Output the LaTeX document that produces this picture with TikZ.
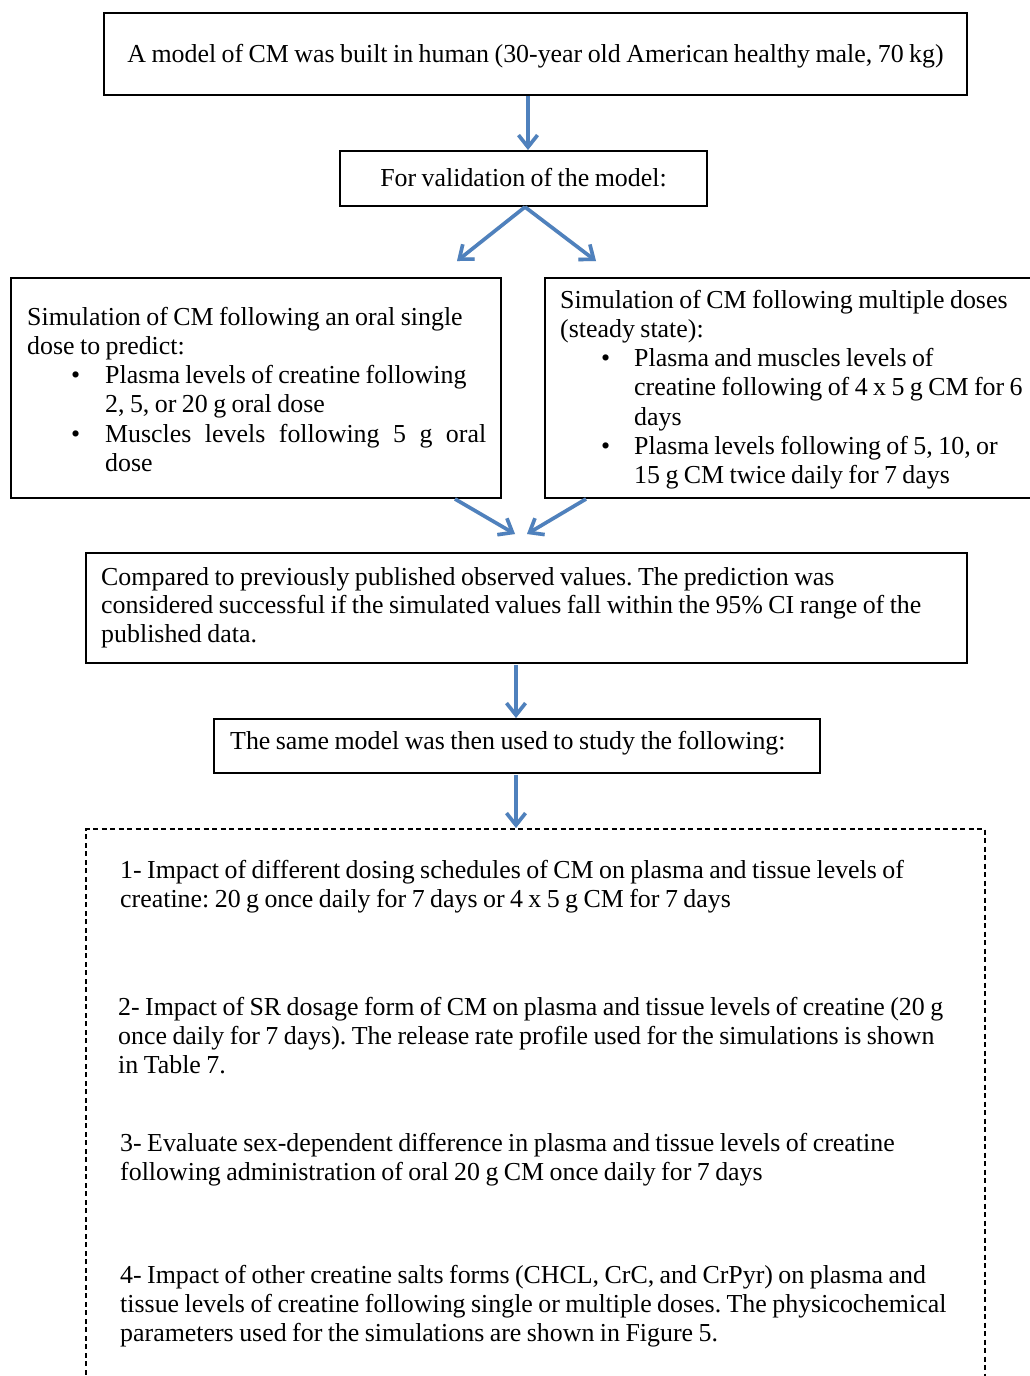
\documentclass[tikz,border=0pt]{standalone}
\usepackage{fontspec}
\setmainfont{Liberation Serif}
\usetikzlibrary{arrows.meta}
\definecolor{arrowblue}{HTML}{4F81BD}
\newcommand{\tightsp}{\frenchspacing\spaceskip=0.21em plus 0.3em minus 0.05em\relax}
\newcommand{\diafont}{\fontsize{25.9}{29.3}\selectfont\tightsp}
\newcommand{\diafontb}{\fontsize{25.9}{28.5}\selectfont\tightsp}
\begin{document}
\begin{tikzpicture}[x=1pt,y=-1pt,
  box/.style={draw=black,line width=1.4pt},
  dbox/.style={draw=black,line width=1.1pt,dash pattern=on 5pt off 3.5pt},
  txt/.style={anchor=base west,inner sep=0pt,text width=940pt,font=\diafont,
    execute at begin node=\tightsp},
  ctxt/.style={anchor=base,inner sep=0pt,font=\diafont},
  flow/.style={draw=arrowblue,line width=3.6pt,
    -{Straight Barb[length=12pt,width=19pt,line width=3.6pt]}},
  shade/.style={draw=black!25,opacity=0.5,line width=3.6pt,
    -{Straight Barb[length=12pt,width=19pt,line width=3.6pt]}}
]
\useasboundingbox (0,0) rectangle (1030,1376);
\fill[white] (0,0) rectangle (1030,1376);

% boxes
\draw[box] (104,13) rectangle (967,95);
\node[ctxt] (t1) at (535.5,62) {A model of CM was built in human (30-year old American healthy male, 70 kg)};
\draw[box] (340,151) rectangle (707,206);
\node[ctxt] (t2) at (523.5,186) {For validation of the model:};

\draw[box] (11,278) rectangle (501,498);
\node[txt] (t3) at (27,325) {Simulation of CM following an oral single\\
dose to predict:\\
\hspace*{78pt}\llap{\textbullet\hspace{25pt}}Plasma levels of creatine following\\
\hspace*{78pt}2, 5, or 20 g oral dose\\
\hspace*{78pt}\llap{\textbullet\hspace{25pt}}\makebox[381pt][s]{Muscles levels following 5 g oral}\\
\hspace*{78pt}dose};

\draw[box] (545,278) rectangle (1045,498);
\node[txt] (t4) at (560,308) {Simulation of CM following multiple doses\\
(steady state):\\
\hspace*{74pt}\llap{\textbullet\hspace{24pt}}Plasma and muscles levels of\\
\hspace*{74pt}creatine following of 4 x 5 g CM for 6\\
\hspace*{74pt}days\\
\hspace*{74pt}\llap{\textbullet\hspace{24pt}}Plasma levels following of 5, 10, or\\
\hspace*{74pt}15 g CM twice daily for 7 days};

\draw[box] (86,553) rectangle (967,663);
\node[txt,font=\diafontb] (t5) at (101,585) {Compared to previously published observed values. The prediction was\\
considered successful if the simulated values fall within the 95\% CI range of the\\
published data.};

\draw[box] (214,719) rectangle (820,773);
\node[txt] (t6) at (230,749) {The same model was then used to study the following:};

\draw[dbox] (86,1400) -- (86,829) -- (985,829) -- (985,1400);
\node[txt] (i1) at (120,878) {1- Impact of different dosing schedules of CM on plasma and tissue levels of\\
creatine: 20 g once daily for 7 days or 4 x 5 g CM for 7 days};
\node[txt] (i2) at (118,1015) {2- Impact of SR dosage form of CM on plasma and tissue levels of creatine (20 g\\
once daily for 7 days). The release rate profile used for the simulations is shown\\
in Table 7.};
\node[txt] (i3) at (120,1151) {3- Evaluate sex-dependent difference in plasma and tissue levels of creatine\\
following administration of oral 20 g CM once daily for 7 days};
\node[txt] (i4) at (120,1283) {4- Impact of other creatine salts forms (CHCL, CrC, and CrPyr) on plasma and\\
tissue levels of creatine following single or multiple doses. The physicochemical\\
parameters used for the simulations are shown in Figure 5.};

% connector coordinates
\coordinate (a1s) at (528,96);   \coordinate (a1e) at (528,150);
\coordinate (a2s) at (525,207);  \coordinate (a2l) at (457,261); \coordinate (a2r) at (596,261);
\coordinate (a4s) at (455,499);  \coordinate (a4e) at (515,534);
\coordinate (a5s) at (586,499);  \coordinate (a5e) at (527,534);
\coordinate (a6s) at (516,665);  \coordinate (a6e) at (516,718);
\coordinate (a7s) at (516,775);  \coordinate (a7e) at (516,828);

\begin{scope}[shift={(1.5,2)}]
\foreach \s/\e in {a1s/a1e,a2s/a2l,a2s/a2r,a4s/a4e,a5s/a5e,a6s/a6e,a7s/a7e}
  \draw[shade] (\s) -- (\e);
\end{scope}
\foreach \s/\e in {a1s/a1e,a2s/a2l,a2s/a2r,a4s/a4e,a5s/a5e,a6s/a6e,a7s/a7e}
  \draw[flow] (\s) -- (\e);
\end{tikzpicture}
\end{document}
